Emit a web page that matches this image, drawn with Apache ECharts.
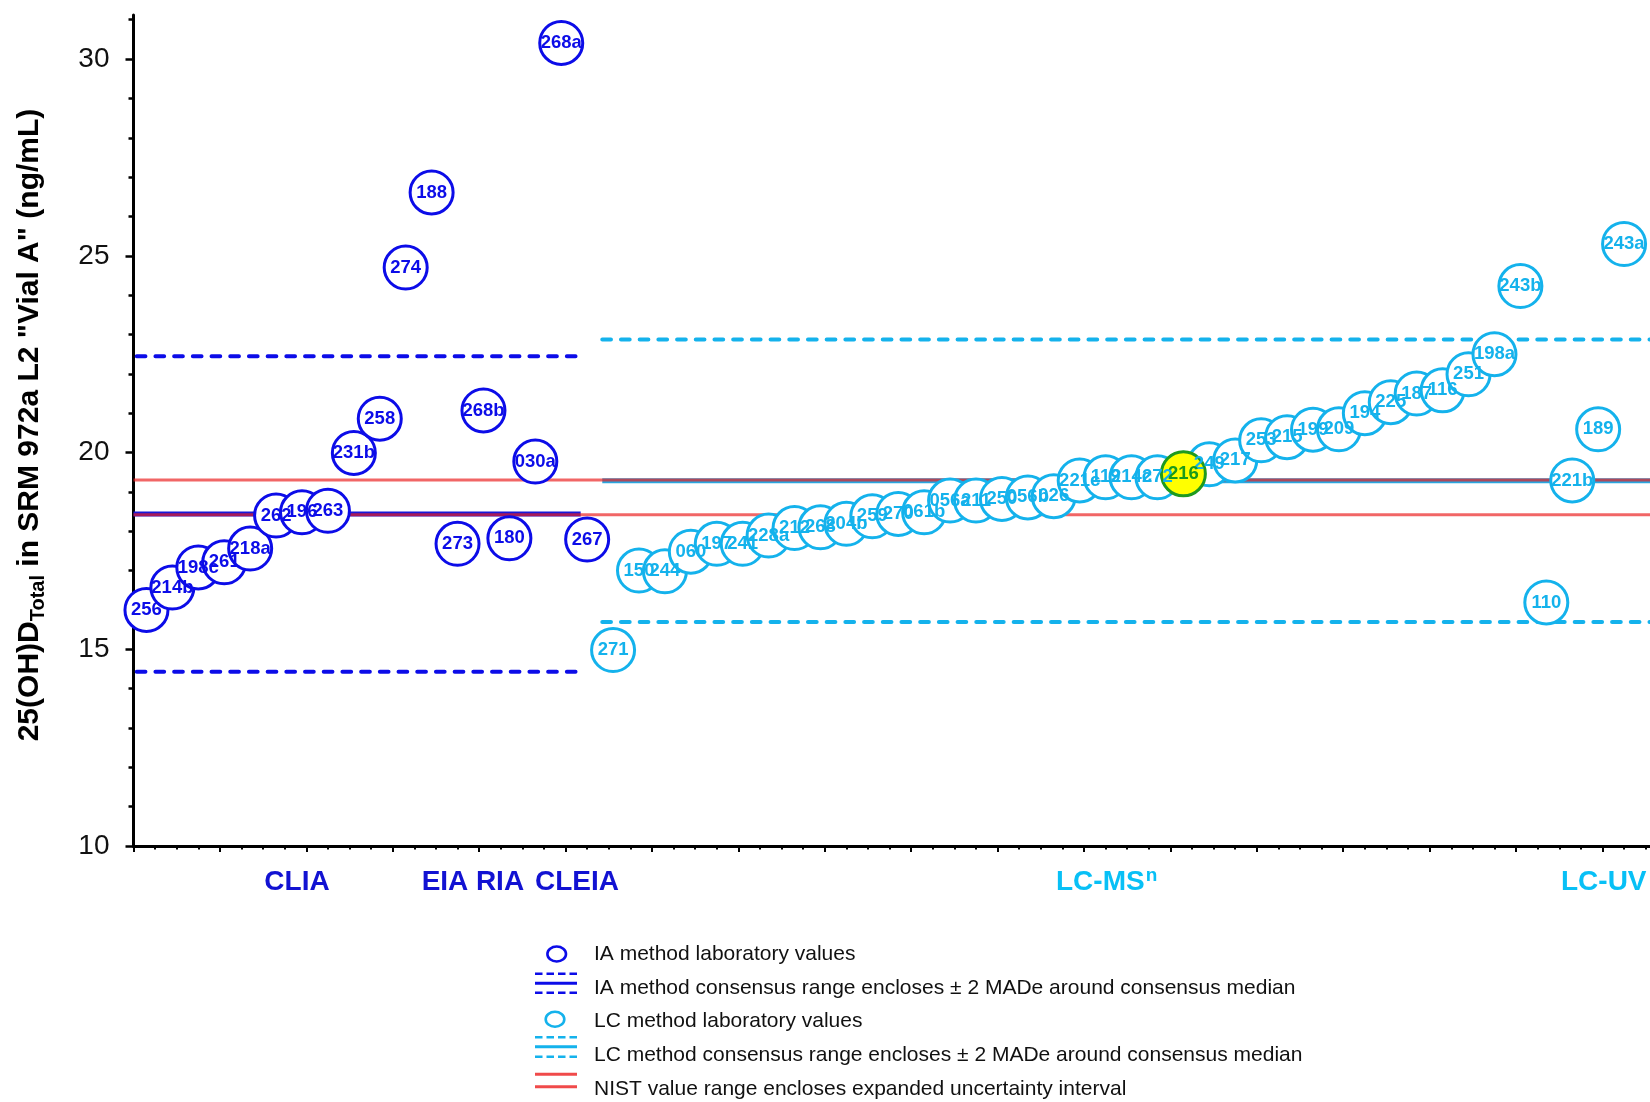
<!DOCTYPE html>
<html>
<head>
<meta charset="utf-8">
<script src="https://cdn.jsdelivr.net/npm/echarts@6/dist/echarts.min.js"></script>
<style>
  html, body { margin: 0; padding: 0; background: #fff; }
  #chart { width: 1650px; height: 1102px; }
</style>
</head>
<body>
<div id="chart"></div>
<script>
// Immunoassay (IA) laboratories, in plotting order, and their results (ng/mL)
const iaLabs = ['256', '214b', '198c', '261', '218a', '262', '196', '263', '231b', '258',
  '274', '188', '273', '268b', '180', '030a', '268a', '267'];
const iaValues = [16.00, 16.57, 17.08, 17.21, 17.56, 18.40, 18.48, 18.52, 19.99, 20.86,
  24.70, 26.61, 17.68, 21.07, 17.82, 19.77, 30.41, 17.79];

// Liquid chromatography (LC) laboratories and their results (ng/mL)
const lcLabs = ['271', '150', '244', '060', '197', '241', '228a', '212', '268', '204b',
  '259', '270', '061b', '056a', '211', '250', '056b', '026', '221c', '119',
  '214c', '272', '216', '249', '217', '253', '215', '199', '209', '194',
  '225', '187', '116', '251', '198a', '243b', '110', '221b', '189', '243a'];
const lcValues = [14.98, 17.00, 16.98, 17.48, 17.68, 17.68, 17.89, 18.08, 18.10, 18.19,
  18.38, 18.44, 18.48, 18.78, 18.78, 18.82, 18.86, 18.89, 19.29, 19.37,
  19.37, 19.37, 19.46, 19.70, 19.80, 20.31, 20.39, 20.58, 20.59, 21.00,
  21.28, 21.50, 21.58, 21.99, 22.50, 24.23, 16.19, 19.29, 20.59, 25.30];

// Consensus ranges: [median - 2 MADe, median, median + 2 MADe]
const iaConsensus = [14.43, 18.44, 22.45];
const lcConsensus = [15.69, 19.28, 22.87];
// NIST expanded uncertainty interval
const nistRange = [18.42, 19.30];

// Lab flagged with a highlight marker
const highlightLab = '216';

// Method group captions under the axis
const iaGroups = ['CLIA', 'EIA', 'RIA', 'CLEIA'];
const lcGroups = ['{a|LC-MS}{b|n}', '{a|LC-UV}'];

// Axis ticks
const yMajorTicks = [10, 15, 20, 25, 30];
const yMinorTicks = [11, 12, 13, 14, 16, 17, 18, 19, 21, 22, 23, 24, 26, 27, 28, 29, 31];

// ---------------------------------------------------------------------------
const FONT = '"Liberation Sans", Arial, Helvetica, sans-serif';
const IA_COLOR = '#0c0ce8';
const LC_COLOR = '#14b2ec';
const IA_TEXT = '#1212d2';
const LC_TEXT = '#08c0f6';
const RED = 'rgba(234, 30, 30, 0.68)';

const X_MAX = 70.2;
const labX = i => 1.2 * i + 0.6;          // horizontal slot of the i-th lab
const iaSpan = [0.15, 20.7];
const lcSpan = [21.7, X_MAX];

const xMinor = [], xMajor = [];
for (let v = 0; v <= 70; v++) (v % 4 === 0 ? xMajor : xMinor).push(v);

const iaData = iaLabs.map((n, i) => ({ name: n, value: [labX(i), iaValues[i]] }));
const lcData = lcLabs.map((n, j) => {
  const d = { name: n, value: [labX(iaLabs.length + j), lcValues[j]] };
  if (n === highlightLab) d.label = { show: false };
  return d;
});
const hlData = lcData.filter(d => d.name === highlightLab).map(d => ({ name: d.name, value: d.value }));

function hLine(span, y, color, width, dashed, z) {
  return {
    type: 'line', silent: true, animation: false, z: z || 1,
    symbol: 'none',
    data: [[span[0], y], [span[1], y]],
    lineStyle: {
      color: color, width: width,
      type: dashed ? [8.7, 10] : 'solid',
      cap: dashed ? 'round' : 'butt'
    }
  };
}

function pointSeries(data, stroke, textColor, fill, z, size) {
  return {
    type: 'scatter', animation: false, z: z,
    data: data,
    symbol: 'circle', symbolSize: size || 43,
    itemStyle: { color: fill, borderColor: stroke, borderWidth: 3, opacity: 1 },
    label: {
      show: true, position: 'inside', formatter: '{b}',
      color: textColor, fontFamily: FONT, fontWeight: 'bold', fontSize: 18.5
    },
    emphasis: { disabled: true }
  };
}

const legendRows = [
  'IA method laboratory values',
  'IA method consensus range encloses ± 2 MADe around consensus median',
  'LC method laboratory values',
  'LC method consensus range encloses ± 2 MADe around consensus median',
  'NIST value range encloses expanded uncertainty interval'
];
const legendRowY = [954, 988, 1021, 1055, 1089];

const graphics = [];
// y-axis title (rotated, with subscript)
graphics.push({
  type: 'text', x: 30, y: 425, rotation: Math.PI / 2,
  style: {
    text: '{m|25(OH)D}{s|Total}{m| in SRM 972a L2 "Vial A" (ng/mL)}',
    align: 'center', verticalAlign: 'middle', fill: '#000',
    rich: {
      m: { fontFamily: FONT, fontWeight: 'bold', fontSize: 30, fill: '#000' },
      s: { fontFamily: FONT, fontWeight: 'bold', fontSize: 20, fill: '#000', padding: [17, 0, 0, 0] }
    }
  }
});
// method group captions
const iaGroupX = [297, 445, 500, 577];
iaGroups.forEach((g, k) => graphics.push({
  type: 'text', x: iaGroupX[k], y: 882,
  style: { text: g, align: 'center', verticalAlign: 'middle', fill: IA_TEXT,
    font: 'bold 28px ' + FONT }
}));
const lcGroupX = [1056, 1561];
lcGroups.forEach((g, k) => graphics.push({
  type: 'text', x: lcGroupX[k], y: 882,
  style: {
    text: g, align: 'left', verticalAlign: 'middle', fill: LC_TEXT,
    rich: {
      a: { fontFamily: FONT, fontWeight: 'bold', fontSize: 28, fill: LC_TEXT },
      b: { fontFamily: FONT, fontWeight: 'bold', fontSize: 19, fill: LC_TEXT, padding: [0, 0, 13, 1] }
    }
  }
}));
// legend texts
legendRows.forEach((t, k) => graphics.push({
  type: 'text', x: 594, y: legendRowY[k],
  style: { text: t, align: 'left', verticalAlign: 'middle', fill: '#111', font: '21px ' + FONT }
}));
// legend icons
function legendEllipse(cx, cy, color) {
  graphics.push({ type: 'ellipse', shape: { cx: cx, cy: cy, rx: 9.3, ry: 7.5 },
    style: { fill: '#fff', stroke: color, lineWidth: 2.6 } });
}
function legendLine(y, color, dashed, w) {
  graphics.push({ type: 'line', shape: { x1: 535, y1: y, x2: 577, y2: y },
    style: { stroke: color, lineWidth: w, lineDash: dashed ? [7.5, 4] : null } });
}
legendEllipse(556.7, 954, IA_COLOR);
legendLine(973.7, IA_COLOR, true, 2.6);
legendLine(983.3, IA_COLOR, false, 3);
legendLine(992.7, IA_COLOR, true, 2.6);
legendEllipse(555, 1019.3, LC_COLOR);
legendLine(1037.3, LC_COLOR, true, 2.6);
legendLine(1046.7, LC_COLOR, false, 3);
legendLine(1056.7, LC_COLOR, true, 2.6);
legendLine(1074.3, '#f04a4a', false, 3);
legendLine(1086.7, '#f04a4a', false, 3);

const chart = echarts.init(document.getElementById('chart'), null, { renderer: 'canvas' });
chart.setOption({
  backgroundColor: '#fff',
  animation: false,
  grid: { left: 133.5, right: 0, top: 15, bottom: 256, containLabel: false, outerBoundsMode: 'none' },
  xAxis: [
    {
      type: 'value', min: 0, max: X_MAX, position: 'bottom',
      axisLine: { show: true, onZero: false, lineStyle: { color: '#000', width: 3 } },
      axisTick: { show: true, customValues: xMajor, length: 6, lineStyle: { color: '#000', width: 2 } },
      axisLabel: { show: false }, splitLine: { show: false }
    },
    {
      type: 'value', min: 0, max: X_MAX, position: 'bottom', gridIndex: 0,
      axisLine: { show: false, onZero: false },
      axisTick: { show: true, customValues: xMinor, length: 3.5, lineStyle: { color: '#000', width: 2 } },
      axisLabel: { show: false }, splitLine: { show: false }
    }
  ],
  yAxis: [
    {
      type: 'value', min: 10, max: 31.12, position: 'left',
      axisLine: { show: true, onZero: false, lineStyle: { color: '#000', width: 3 } },
      axisTick: { show: true, customValues: yMajorTicks, length: 8, lineStyle: { color: '#000', width: 2.5 } },
      axisLabel: { show: true, customValues: yMajorTicks, margin: 24, color: '#111',
        fontFamily: FONT, fontSize: 28 },
      splitLine: { show: false }
    },
    {
      type: 'value', min: 10, max: 31.12, position: 'left', gridIndex: 0, offset: 0,
      axisLine: { show: false, onZero: false },
      axisTick: { show: true, customValues: yMinorTicks, length: 5, lineStyle: { color: '#000', width: 2.5 } },
      axisLabel: { show: false }, splitLine: { show: false }
    }
  ],
  series: [
    hLine(iaSpan, iaConsensus[0], IA_COLOR, 4, true),
    hLine(iaSpan, iaConsensus[2], IA_COLOR, 4, true),
    hLine([0, iaSpan[1]], iaConsensus[1], '#1818d8', 5, false),
    hLine(lcSpan, lcConsensus[0], LC_COLOR, 4, true),
    hLine(lcSpan, lcConsensus[2], LC_COLOR, 4, true),
    hLine(lcSpan, lcConsensus[1], '#2aa6e0', 5, false),
    hLine([0, X_MAX], nistRange[0], RED, 3, false),
    hLine([0, X_MAX], nistRange[1], RED, 3, false),
    pointSeries(iaData, IA_COLOR, IA_COLOR, '#fff', 3),
    pointSeries(lcData, LC_COLOR, LC_COLOR, '#fff', 3),
    pointSeries(hlData, '#1f9a1f', '#1a9a1a', '#ffff00', 3, 44)
  ],
  graphic: graphics
});
</script>
</body>
</html>
